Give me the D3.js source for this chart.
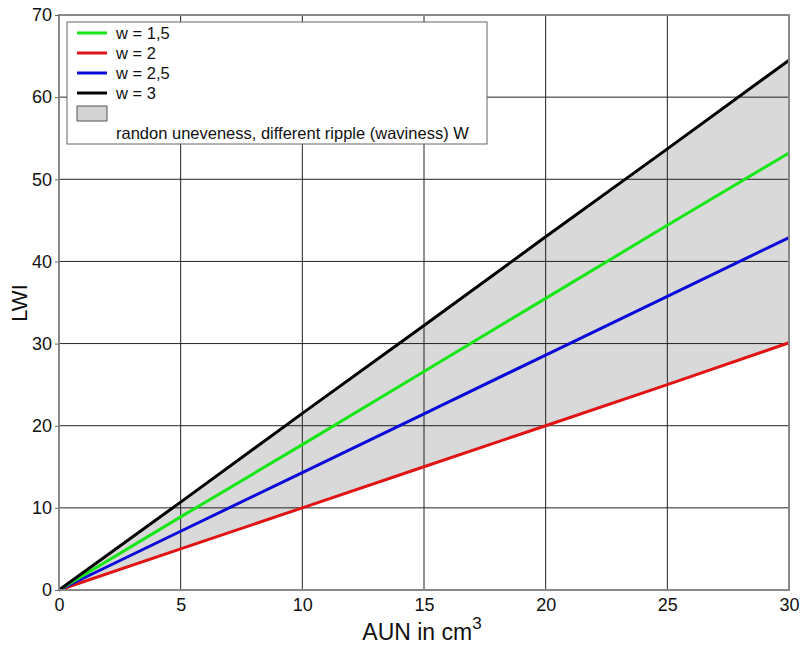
<!DOCTYPE html>
<html>
<head>
<meta charset="utf-8">
<script src="https://d3js.org/d3.v7.min.js"></script>
<style>
  body { margin: 0; background: #fff; }
  text { font-family: Arial, "Liberation Sans", sans-serif; fill: #111; }
</style>
</head>
<body>
<div id="chart"></div>
<script>
// values
const aun = [0, 5, 10, 15, 20, 25, 30];
const w15 = [0, 8.9, 17.7, 26.6, 35.5, 44.4, 53.2];
const w2  = [0, 5.0, 10.0, 15.0, 20.0, 25.0, 30.1];
const w25 = [0, 7.15, 14.3, 21.45, 28.6, 35.75, 42.9];
const w3  = [0, 10.7, 21.5, 32.2, 43.0, 53.7, 64.5];
const xTicks = [0, 5, 10, 15, 20, 25, 30];
const yTicks = [0, 10, 20, 30, 40, 50, 60, 70];
const seriesNames = ["w = 1,5", "w = 2", "w = 2,5", "w = 3"];
const seriesColors = ["#17e617", "#e01414", "#0a0ad8", "#000000"];
const bandLabel = "randon uneveness, different ripple (waviness) W";

const W = 801, H = 653;
const margin = {top: 15, right: 12, bottom: 63, left: 59};

const svg = d3.select("#chart").append("svg")
  .attr("width", W).attr("height", H);

const x = d3.scaleLinear().domain([0, 30]).range([margin.left, W - margin.right]);
const y = d3.scaleLinear().domain([0, 70]).range([H - margin.bottom, margin.top]);

// band between lowest and highest curve
const band = aun.map((a, i) => ({a: a, lo: w2[i], hi: w3[i]}));
svg.append("path")
  .datum(band)
  .attr("fill", "#d9d9d9")
  .attr("d", d3.area().x(d => x(d.a)).y0(d => y(d.lo)).y1(d => y(d.hi)));

// grid
svg.append("g")
  .selectAll("line").data(xTicks.slice(1, -1)).join("line")
  .attr("x1", d => x(d)).attr("x2", d => x(d))
  .attr("y1", y(0)).attr("y2", y(70))
  .attr("stroke", "#222").attr("stroke-width", 1);
svg.append("g")
  .selectAll("line").data(yTicks.slice(1, -1)).join("line")
  .attr("x1", x(0)).attr("x2", x(30))
  .attr("y1", d => y(d)).attr("y2", d => y(d))
  .attr("stroke", "#222").attr("stroke-width", 1);

// curves, drawn red first and black last
const series = [w15, w2, w25, w3];
[1, 2, 0, 3].forEach(function(idx) {
  svg.append("path")
    .datum(series[idx])
    .attr("fill", "none")
    .attr("stroke", seriesColors[idx])
    .attr("stroke-width", 3)
    .attr("d", d3.line().x((d, i) => x(aun[i])).y(d => y(d)));
});

// frame
svg.append("rect")
  .attr("x", x(0)).attr("y", y(70))
  .attr("width", x(30) - x(0)).attr("height", y(0) - y(70))
  .attr("fill", "none").attr("stroke", "#888").attr("stroke-width", 2);

// axes
const xAxis = svg.append("g")
  .attr("transform", `translate(0,${y(0)})`)
  .call(d3.axisBottom(x).tickValues(xTicks).tickSize(0).tickPadding(8));
xAxis.select(".domain").remove();
xAxis.selectAll("text").style("font-size", "18px").attr("fill", "#111")
  .style("font-family", "Arial, 'Liberation Sans', sans-serif");

const yAxis = svg.append("g")
  .attr("transform", `translate(${x(0)},0)`)
  .call(d3.axisLeft(y).tickValues(yTicks).tickSize(4).tickPadding(3));
yAxis.select(".domain").remove();
yAxis.selectAll("line").attr("stroke", "#666");
yAxis.selectAll("text").style("font-size", "18px").attr("fill", "#111")
  .style("font-family", "Arial, 'Liberation Sans', sans-serif");

// axis titles
const xt = svg.append("text")
  .attr("x", 422).attr("y", 640)
  .attr("text-anchor", "middle")
  .style("font-size", "23px");
xt.append("tspan").text("AUN in cm");
xt.append("tspan").text("3").attr("dy", -11).style("font-size", "17px");

svg.append("text")
  .attr("transform", "translate(27,303) rotate(-90)")
  .attr("text-anchor", "middle")
  .style("font-size", "22px")
  .text("LWI");

// legend
const lg = svg.append("g");
lg.append("rect")
  .attr("x", 67).attr("y", 22).attr("width", 420).attr("height", 122)
  .attr("fill", "#fff").attr("stroke", "#666").attr("stroke-width", 1);
seriesNames.forEach(function(n, i) {
  const yy = 33 + i * 20;
  lg.append("line")
    .attr("x1", 77).attr("x2", 107).attr("y1", yy).attr("y2", yy)
    .attr("stroke", seriesColors[i]).attr("stroke-width", 3);
  lg.append("text")
    .attr("x", 116).attr("y", yy + 6)
    .style("font-size", "16.5px")
    .text(n);
});
lg.append("rect")
  .attr("x", 77).attr("y", 106).attr("width", 30).attr("height", 15)
  .attr("fill", "#d3d3d3").attr("stroke", "#555").attr("stroke-width", 1);
lg.append("text")
  .attr("x", 116).attr("y", 139)
  .style("font-size", "16.5px")
  .text(bandLabel);
</script>
</body>
</html>
